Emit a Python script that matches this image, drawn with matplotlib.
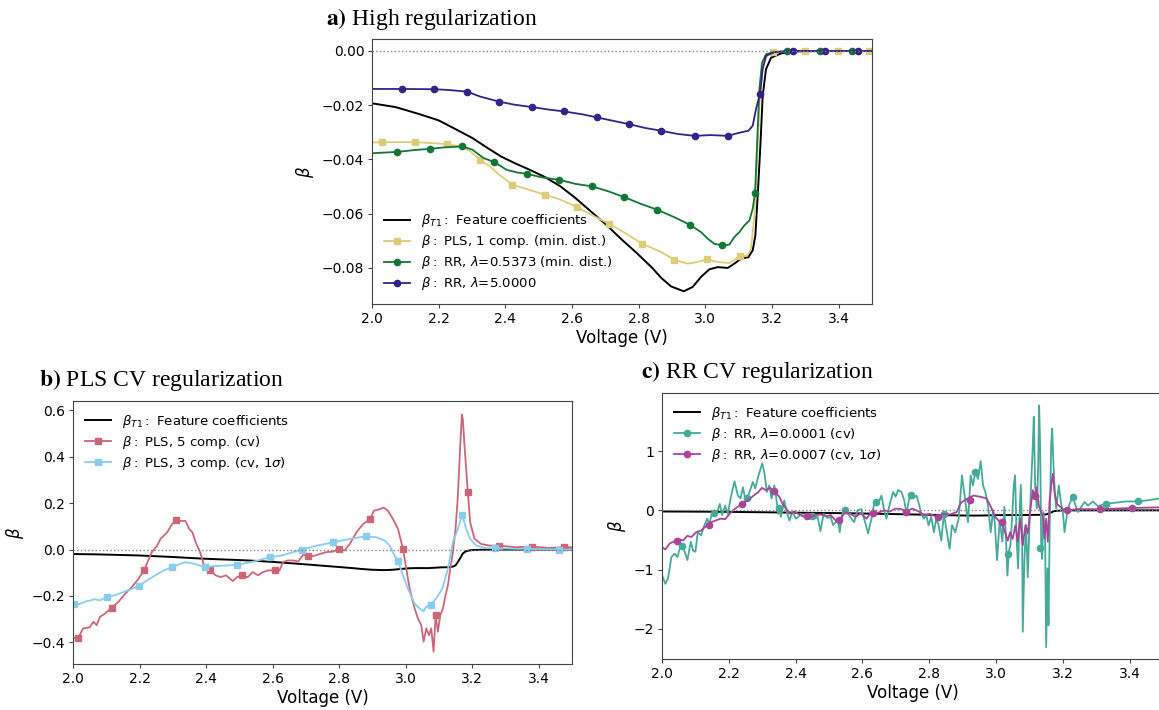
import numpy as np
import matplotlib.pyplot as plt
from matplotlib.ticker import MultipleLocator

# ------------------------------------------------------------
# Data: (voltage, beta) pairs per curve,
# plus the positions of the markers drawn on each curve
# ------------------------------------------------------------
feat_pts = [(2.0, -0.0193), (2.071, -0.0207), (2.14, -0.0232), (2.2, -0.0256), (2.255, -0.0291),
            (2.301, -0.0321), (2.347, -0.0358), (2.387, -0.0389), (2.427, -0.0413), (2.473, -0.0438),
            (2.519, -0.0465), (2.565, -0.0499), (2.61, -0.0542), (2.656, -0.0591), (2.702, -0.064),
            (2.748, -0.0694), (2.794, -0.0745), (2.84, -0.0799), (2.867, -0.0836), (2.897, -0.0868),
            (2.935, -0.0886), (2.962, -0.087), (2.987, -0.0833), (3.012, -0.0805), (3.037, -0.0797),
            (3.067, -0.080), (3.087, -0.0784), (3.107, -0.0766), (3.129, -0.076), (3.142, -0.0735),
            (3.15, -0.068), (3.157, -0.0533), (3.165, -0.0349), (3.172, -0.0165), (3.182, -0.0067),
            (3.197, -0.0025), (3.227, -0.0009), (3.267, -0.0002), (3.35, 0.0), (3.5, 0.0)]

# a) high regularization
pls1_pts = [(2.0, -0.0337), (2.071, -0.0336), (2.128, -0.0336), (2.185, -0.034), (2.226, -0.0344),
            (2.266, -0.0352), (2.295, -0.037), (2.324, -0.0401), (2.353, -0.0425), (2.381, -0.0456),
            (2.421, -0.0493), (2.461, -0.0508), (2.519, -0.053), (2.565, -0.0548), (2.614, -0.0575),
            (2.656, -0.0603), (2.711, -0.0637), (2.759, -0.0671), (2.809, -0.071), (2.867, -0.0741),
            (2.907, -0.077), (2.947, -0.0784), (2.977, -0.0778), (3.005, -0.0768), (3.037, -0.0778),
            (3.072, -0.0782), (3.092, -0.0766), (3.105, -0.0757), (3.125, -0.0756), (3.137, -0.0729),
            (3.147, -0.0607), (3.155, -0.0411), (3.162, -0.0202), (3.172, -0.0055), (3.187, -0.0012),
            (3.22, -0.0002), (3.5, 0.0)]
pls1_marks = [(2.031, -0.0337), (2.128, -0.0336), (2.226, -0.0344), (2.324, -0.0401), (2.421, -0.0493),
              (2.519, -0.053), (2.614, -0.0575), (2.711, -0.0637), (2.809, -0.071), (2.907, -0.077),
              (3.005, -0.0768), (3.105, -0.0757), (3.202, -0.0004), (3.299, 0.0), (3.397, 0.0), (3.492, 0.0)]

rr05_pts = [(2.0, -0.0377), (2.076, -0.0372), (2.13, -0.0365), (2.173, -0.0361), (2.22, -0.0355),
            (2.271, -0.0352), (2.301, -0.0364), (2.335, -0.0395), (2.367, -0.041), (2.404, -0.0438),
            (2.435, -0.0448), (2.465, -0.0453), (2.51, -0.0466), (2.562, -0.0475), (2.61, -0.049),
            (2.66, -0.0499), (2.71, -0.0518), (2.757, -0.0539), (2.805, -0.0563), (2.855, -0.0585),
            (2.907, -0.0613), (2.954, -0.0641), (2.987, -0.0668), (3.007, -0.0692), (3.027, -0.0711),
            (3.05, -0.0717), (3.072, -0.0714), (3.087, -0.0686), (3.102, -0.0668), (3.117, -0.0643),
            (3.132, -0.0625), (3.142, -0.0582), (3.149, -0.0523), (3.155, -0.0349), (3.162, -0.0141),
            (3.17, -0.0043), (3.182, -0.0012), (3.207, -0.0004), (3.26, 0.0), (3.5, 0.0)]
rr05_marks = [(2.076, -0.0372), (2.173, -0.0361), (2.271, -0.0352), (2.367, -0.041), (2.465, -0.0453),
              (2.562, -0.0475), (2.66, -0.0499), (2.757, -0.0539), (2.855, -0.0585), (2.954, -0.0641),
              (3.05, -0.0717), (3.149, -0.0523), (3.245, 0.0), (3.344, 0.0), (3.439, 0.0)]

rr5_pts = [(2.0, -0.014), (2.089, -0.014), (2.187, -0.0141), (2.232, -0.0144), (2.286, -0.015),
           (2.324, -0.0168), (2.382, -0.0187), (2.427, -0.0198), (2.481, -0.0207), (2.53, -0.0216),
           (2.577, -0.0223), (2.633, -0.0234), (2.675, -0.0245), (2.725, -0.0258), (2.772, -0.027),
           (2.82, -0.0284), (2.867, -0.0294), (2.917, -0.0306), (2.969, -0.0313), (3.017, -0.031),
           (3.067, -0.0313), (3.097, -0.0303), (3.129, -0.0294), (3.142, -0.0276), (3.152, -0.0214),
           (3.164, -0.0157), (3.172, -0.0067), (3.182, -0.0018), (3.207, -0.0004), (3.26, 0.0), (3.5, 0.0)]
rr5_marks = [(2.089, -0.014), (2.187, -0.0141), (2.286, -0.015), (2.382, -0.0187), (2.481, -0.0207),
             (2.577, -0.0223), (2.675, -0.0245), (2.772, -0.027), (2.867, -0.0294), (2.969, -0.0313),
             (3.067, -0.0313), (3.164, -0.0157), (3.262, 0.0), (3.359, 0.0), (3.457, 0.0)]

# b) PLS CV
pls5_pts = [(2.0, -0.38), (2.015, -0.383), (2.03, -0.34), (2.05, -0.335), (2.061, -0.311), (2.071, -0.326),
            (2.081, -0.29), (2.096, -0.276), (2.116, -0.251), (2.136, -0.226), (2.157, -0.19), (2.177, -0.161),
            (2.197, -0.126), (2.214, -0.087), (2.224, -0.054), (2.237, -0.011), (2.253, 0.017), (2.263, 0.046),
            (2.283, 0.074), (2.298, 0.11), (2.311, 0.127), (2.325, 0.123), (2.338, 0.124), (2.349, 0.089),
            (2.359, 0.074), (2.369, 0.031), (2.382, -0.011), (2.394, -0.069), (2.411, -0.09), (2.429, -0.111),
            (2.444, -0.119), (2.46, -0.111), (2.48, -0.136), (2.493, -0.119), (2.508, -0.111), (2.525, -0.119),
            (2.54, -0.097), (2.556, -0.111), (2.571, -0.097), (2.586, -0.09), (2.608, -0.09), (2.621, -0.09),
            (2.631, -0.054), (2.646, -0.047), (2.662, -0.047), (2.677, -0.051), (2.692, -0.023), (2.705, -0.026),
            (2.722, -0.028), (2.742, -0.019), (2.762, -0.011), (2.782, -0.009), (2.798, 0.003), (2.817, -0.004),
            (2.832, 0.024), (2.852, 0.074), (2.872, 0.11), (2.894, 0.131), (2.904, 0.167), (2.922, 0.174),
            (2.934, 0.181), (2.947, 0.167), (2.962, 0.131), (2.977, 0.089), (2.992, 0.003), (3.002, -0.083),
            (3.012, -0.169), (3.027, -0.254), (3.037, -0.297), (3.047, -0.326), (3.054, -0.397), (3.062, -0.34),
            (3.07, -0.369), (3.077, -0.34), (3.084, -0.44), (3.09, -0.283), (3.097, -0.354), (3.104, -0.283),
            (3.112, -0.254), (3.12, -0.197), (3.127, -0.154), (3.134, -0.083), (3.142, -0.011), (3.15, 0.089),
            (3.157, 0.231), (3.164, 0.446), (3.169, 0.581), (3.172, 0.56), (3.177, 0.446), (3.187, 0.246),
            (3.194, 0.117), (3.207, 0.046), (3.227, 0.024), (3.252, 0.017), (3.282, 0.017), (3.332, 0.01),
            (3.38, 0.013), (3.432, 0.007), (3.477, 0.01), (3.5, 0.01)]
pls5_marks = [(2.015, -0.383), (2.116, -0.251), (2.214, -0.087), (2.311, 0.127), (2.411, -0.09),
              (2.508, -0.111), (2.608, -0.09), (2.705, -0.026), (2.8, 0.003), (2.894, 0.131),
              (2.992, 0.003), (3.09, -0.283), (3.187, 0.246), (3.282, 0.017), (3.38, 0.013), (3.477, 0.01)]

pls3_pts = [(2.0, -0.233), (2.015, -0.237), (2.04, -0.223), (2.066, -0.214), (2.081, -0.219), (2.101, -0.204),
            (2.126, -0.197), (2.152, -0.183), (2.177, -0.169), (2.199, -0.157), (2.222, -0.133), (2.247, -0.111),
            (2.273, -0.09), (2.298, -0.076), (2.323, -0.061), (2.338, -0.054), (2.364, -0.061), (2.396, -0.076),
            (2.424, -0.071), (2.455, -0.069), (2.493, -0.066), (2.525, -0.057), (2.556, -0.047), (2.591, -0.033),
            (2.626, -0.026), (2.662, -0.011), (2.689, 0.0), (2.732, 0.017), (2.782, 0.031), (2.832, 0.046),
            (2.88, 0.057), (2.912, 0.053), (2.937, 0.039), (2.952, 0.017), (2.967, -0.026), (2.977, -0.05),
            (2.992, -0.111), (3.007, -0.169), (3.027, -0.233), (3.042, -0.254), (3.054, -0.266), (3.062, -0.247),
            (3.075, -0.237), (3.092, -0.211), (3.11, -0.169), (3.127, -0.083), (3.142, 0.031), (3.157, 0.089),
            (3.17, 0.149), (3.182, 0.089), (3.194, 0.046), (3.212, 0.017), (3.242, 0.006), (3.269, 0.006),
            (3.332, 0.003), (3.365, 0.003), (3.462, 0.0), (3.5, 0.0)]
pls3_marks = [(2.003, -0.234), (2.101, -0.204), (2.199, -0.157), (2.298, -0.076), (2.396, -0.076),
              (2.493, -0.066), (2.591, -0.033), (2.689, 0.0), (2.782, 0.031), (2.88, 0.057),
              (2.977, -0.05), (3.075, -0.237), (3.17, 0.149), (3.269, 0.006), (3.365, 0.003), (3.462, 0.0)]

# c) RR CV
rr1_pts = [(2.0, -1.10), (2.01, -1.24), (2.018, -1.15), (2.028, -0.79), (2.038, -0.73), (2.046, -0.79),
           (2.056, -0.59), (2.061, -0.60), (2.068, -0.70), (2.076, -0.84), (2.086, -0.53), (2.093, -0.68),
           (2.1, -0.70), (2.107, -0.37), (2.117, -0.42), (2.127, -0.25), (2.135, -0.14), (2.142, -0.225),
           (2.149, -0.06), (2.157, -0.045), (2.167, 0.0), (2.173, 0.11), (2.18, -0.08), (2.189, 0.08),
           (2.197, -0.06), (2.207, 0.25), (2.217, 0.49), (2.227, 0.25), (2.235, 0.20), (2.242, 0.39),
           (2.249, 0.20), (2.255, 0.20), (2.262, 0.31), (2.272, 0.48), (2.279, 0.37), (2.289, 0.59),
           (2.3, 0.79), (2.306, 0.65), (2.314, 0.31), (2.321, 0.42), (2.328, 0.20), (2.336, 0.42),
           (2.341, 0.25), (2.348, -0.06), (2.351, 0.04), (2.356, -0.11), (2.366, 0.17), (2.374, -0.03),
           (2.381, -0.17), (2.391, -0.03), (2.401, -0.14), (2.408, -0.11), (2.416, -0.06), (2.426, -0.11),
           (2.436, -0.10), (2.446, -0.06), (2.456, -0.14), (2.466, -0.11), (2.474, -0.35), (2.484, -0.06),
           (2.496, -0.13), (2.505, -0.11), (2.512, -0.25), (2.52, -0.20), (2.527, -0.14), (2.532, -0.37),
           (2.539, -0.06), (2.549, 0.0), (2.557, -0.06), (2.567, -0.14), (2.575, -0.20), (2.585, 0.0),
           (2.597, 0.02), (2.605, -0.14), (2.617, -0.39), (2.627, -0.14), (2.635, 0.11), (2.642, 0.14),
           (2.649, 0.14), (2.657, 0.25), (2.665, 0.0), (2.672, -0.14), (2.682, 0.11), (2.692, 0.31),
           (2.699, 0.23), (2.707, 0.34), (2.717, 0.31), (2.725, 0.17), (2.732, -0.06), (2.739, 0.17),
           (2.745, 0.26), (2.752, 0.20), (2.762, 0.25), (2.769, 0.11), (2.776, -0.06), (2.784, -0.14),
           (2.791, -0.08), (2.798, -0.25), (2.806, -0.11), (2.814, -0.37), (2.821, -0.14), (2.828, -0.25),
           (2.836, -0.51), (2.844, -0.06), (2.851, -0.31), (2.861, -0.65), (2.868, -0.25), (2.878, -0.37),
           (2.888, -0.14), (2.898, 0.59), (2.906, 0.25), (2.916, -0.20), (2.924, 0.59), (2.931, 0.42),
           (2.938, 0.65), (2.946, 0.53), (2.954, 0.83), (2.961, 0.42), (2.968, 0.31), (2.976, 0.08),
           (2.984, -0.37), (2.991, 0.0), (2.996, -0.20), (3.003, -0.84), (3.011, -0.17), (3.019, -0.53),
           (3.025, 0.06), (3.03, -0.51), (3.034, -1.10), (3.038, -0.70), (3.043, -0.59), (3.048, -0.14),
           (3.053, 0.42), (3.057, 0.59), (3.062, -0.53), (3.066, -0.98), (3.07, -0.14), (3.074, 0.43),
           (3.078, -0.31), (3.08, -2.05), (3.085, -0.82), (3.09, -0.25), (3.095, -1.13), (3.1, -0.25),
           (3.105, 0.42), (3.11, 1.10), (3.113, 1.58), (3.117, 0.42), (3.122, 0.03), (3.126, 0.70),
           (3.129, 1.77), (3.132, 1.10), (3.135, -0.53), (3.138, -0.82), (3.142, -0.03), (3.147, -0.48),
           (3.15, -2.31), (3.154, -0.98), (3.157, -1.94), (3.161, -0.14), (3.165, 1.10), (3.168, 1.38),
           (3.172, 0.76), (3.176, 0.31), (3.18, 0.03), (3.188, 0.42), (3.194, 0.14), (3.2, -0.03),
           (3.205, -0.37), (3.212, -0.08), (3.22, 0.11), (3.23, 0.23), (3.238, 0.08), (3.246, -0.03),
           (3.255, 0.06), (3.265, 0.14), (3.275, 0.08), (3.29, 0.15), (3.305, 0.07), (3.328, 0.11),
           (3.36, 0.13), (3.39, 0.15), (3.425, 0.15), (3.455, 0.17), (3.487, 0.20), (3.5, 0.21)]
rr1_marks = [(2.061, -0.60), (2.157, -0.045), (2.255, 0.20), (2.351, 0.04), (2.448, -0.10),
             (2.549, 0.0), (2.642, 0.14), (2.745, 0.26), (2.844, -0.06), (2.938, 0.65),
             (3.036, -0.73), (3.132, -0.64), (3.23, 0.23), (3.328, 0.11), (3.425, 0.15)]

rr7_pts = [(2.0, -0.62), (2.01, -0.66), (2.023, -0.56), (2.038, -0.52), (2.053, -0.49), (2.063, -0.51),
           (2.076, -0.43), (2.088, -0.45), (2.102, -0.37), (2.117, -0.34), (2.129, -0.28), (2.147, -0.20),
           (2.162, -0.17), (2.175, -0.14), (2.189, -0.15), (2.202, -0.06), (2.217, 0.02), (2.232, 0.08),
           (2.247, 0.14), (2.259, 0.17), (2.272, 0.24), (2.287, 0.30), (2.299, 0.38), (2.311, 0.34),
           (2.324, 0.38), (2.338, 0.31), (2.351, 0.23), (2.361, 0.11), (2.371, 0.03), (2.384, -0.06),
           (2.396, -0.02), (2.408, -0.06), (2.421, -0.10), (2.446, -0.11), (2.461, -0.08), (2.476, -0.07),
           (2.491, -0.10), (2.505, -0.08), (2.523, -0.19), (2.535, -0.15), (2.547, -0.03), (2.565, -0.06),
           (2.579, -0.11), (2.595, -0.05), (2.612, -0.14), (2.627, -0.03), (2.647, -0.04), (2.665, 0.0),
           (2.682, -0.02), (2.699, 0.03), (2.717, 0.02), (2.732, -0.02), (2.749, 0.03), (2.769, -0.02),
           (2.785, -0.08), (2.802, -0.06), (2.822, -0.11), (2.842, -0.06), (2.862, -0.07), (2.882, -0.03),
           (2.895, 0.13), (2.912, 0.19), (2.932, 0.25), (2.952, 0.23), (2.972, 0.20), (2.987, 0.03),
           (2.997, -0.11), (3.007, -0.17), (3.017, -0.21), (3.028, -0.39), (3.035, -0.51), (3.042, -0.37),
           (3.05, -0.48), (3.058, -0.25), (3.065, -0.53), (3.072, -0.14), (3.08, -0.59), (3.088, -0.25),
           (3.095, -0.39), (3.102, -0.03), (3.11, 0.34), (3.116, 0.25), (3.122, 0.39), (3.128, 0.08),
           (3.135, -0.03), (3.14, -0.08), (3.145, -0.48), (3.15, -0.14), (3.155, -0.53), (3.16, 0.14),
           (3.165, 0.42), (3.17, 0.62), (3.175, 0.31), (3.182, 0.11), (3.19, 0.07), (3.2, 0.02),
           (3.215, 0.0), (3.24, 0.02), (3.27, 0.02), (3.31, 0.02), (3.36, 0.03), (3.41, 0.04),
           (3.487, 0.05), (3.5, 0.05)]
rr7_marks = [(2.046, -0.51), (2.142, -0.24), (2.239, 0.11), (2.336, 0.32), (2.434, -0.10),
             (2.53, -0.17), (2.632, -0.045), (2.729, -0.03), (2.826, -0.12), (2.921, 0.18),
             (3.019, -0.20), (3.116, 0.25), (3.213, 0.0), (3.31, 0.02), (3.408, 0.04)]

# legend labels
lab_feat = r"$\beta_{T1}:$ Feature coefficients"
lab_pls1 = r"$\beta:$ PLS, 1 comp. (min. dist.)"
lab_rr05 = r"$\beta:$ RR, $\lambda$=0.5373 (min. dist.)"
lab_rr5 = r"$\beta:$ RR, $\lambda$=5.0000"
lab_pls5 = r"$\beta:$ PLS, 5 comp. (cv)"
lab_pls3 = r"$\beta:$ PLS, 3 comp. (cv, 1$\sigma$)"
lab_rr1 = r"$\beta:$ RR, $\lambda$=0.0001 (cv)"
lab_rr7 = r"$\beta:$ RR, $\lambda$=0.0007 (cv, 1$\sigma$)"

plt.rcParams.update({
    'xtick.labelsize': 10, 'ytick.labelsize': 10,
    'xtick.major.size': 2.8, 'ytick.major.size': 2.8,
    'xtick.major.pad': 2.8, 'ytick.major.pad': 2.8,
    'axes.edgecolor': '#444444', 'xtick.color': '#444444', 'ytick.color': '#444444',
    'xtick.labelcolor': 'black', 'ytick.labelcolor': 'black',
})


def draw(ax, pts, color, marks=None, marker='o', lw=1.3):
    v, b = np.array(pts).T
    line, = ax.plot(v, b, color=color, lw=lw)
    if marks is None:
        return line
    mv, mb = np.array(marks).T
    dots, = ax.plot(mv, mb, ls='none', marker=marker, ms=4.5, color=color)
    return (line, dots)


def finish(ax, handles, labels, loc, ylim, ystep):
    ax.axhline(0, color='gray', ls=':', lw=1, zorder=3)
    ax.set_xlim(2.0, 3.5)
    ax.set_ylim(*ylim)
    ax.yaxis.set_major_locator(MultipleLocator(ystep))
    ax.set_xlabel("Voltage (V)", fontsize=12, labelpad=2.5)
    ax.set_ylabel(r"$\beta$", fontsize=12)
    ax.legend(handles, labels, loc=loc, frameon=False, fontsize=9.5, labelspacing=0.3)


fig = plt.figure(figsize=(11.59, 7.10), dpi=100)
ax_a = fig.add_axes([0.321, 0.5718, 0.4314, 0.3732])
ax_b = fig.add_axes([0.063, 0.0648, 0.4305, 0.3704])
ax_c = fig.add_axes([0.5712, 0.0718, 0.4323, 0.3746])

# a) High regularization
h = [draw(ax_a, feat_pts, 'black', lw=1.4),
     draw(ax_a, pls1_pts, '#DDCC77', pls1_marks, 's'),
     draw(ax_a, rr05_pts, '#117733', rr05_marks, 'o'),
     draw(ax_a, rr5_pts, '#332288', rr5_marks, 'o')]
finish(ax_a, h, [lab_feat, lab_pls1, lab_rr05, lab_rr5], 'lower left', (-0.0933, 0.0044), 0.02)

# b) PLS CV regularization
h = [draw(ax_b, feat_pts, 'black', lw=1.4),
     draw(ax_b, pls5_pts, '#CC6677', pls5_marks, 's'),
     draw(ax_b, pls3_pts, '#88CCEE', pls3_marks, 's')]
finish(ax_b, h, [lab_feat, lab_pls5, lab_pls3], 'upper left', (-0.493, 0.64), 0.2)

# c) RR CV regularization
h = [draw(ax_c, feat_pts, 'black', lw=1.4),
     draw(ax_c, rr1_pts, '#44AA99', rr1_marks, 'o'),
     draw(ax_c, rr7_pts, '#AA4499', rr7_marks, 'o')]
finish(ax_c, h, [lab_feat, lab_rr1, lab_rr7], 'upper left', (-2.51, 1.98), 1)

# panel titles (bold letter, Times-like serif)
title_kw = dict(fontsize=17, family='Liberation Serif', math_fontfamily='stix', va='baseline')
fig.text(0.281, 1 - 25 / 710, r"$\mathbf{a)}$ High regularization", **title_kw)
fig.text(0.034, 1 - 386 / 710, r"$\mathbf{b)}$ PLS CV regularization", **title_kw)
fig.text(0.553, 1 - 378 / 710, r"$\mathbf{c)}$ RR CV regularization", **title_kw)

fig.savefig("out.png", dpi=100)
plt.close(fig)
